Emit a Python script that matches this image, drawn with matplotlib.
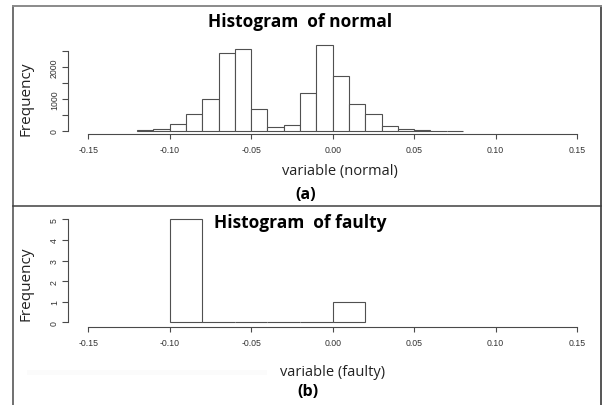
import numpy as np
import matplotlib
matplotlib.use("Agg")
import matplotlib.pyplot as plt
from matplotlib.lines import Line2D
from matplotlib.patches import Rectangle

# histogram data
normal_left = [-0.12, -0.11, -0.10, -0.09, -0.08, -0.07, -0.06, -0.05, -0.04, -0.03,
               -0.02, -0.01, 0.00, 0.01, 0.02, 0.03, 0.04, 0.05, 0.06, 0.07]
normal_counts = [10, 45, 225, 535, 990, 2440, 2570, 675, 120, 180,
                 1175, 2705, 1720, 828, 540, 138, 45, 12, 6, 4]
normal_width = 0.01

faulty_left = [-0.10, -0.08, -0.06, -0.04, -0.02, 0.00]
faulty_counts = [5, 0, 0, 0, 0, 1]
faulty_width = 0.02

xticks = [-0.15, -0.10, -0.05, 0.00, 0.05, 0.10, 0.15]
xtick_labels = ["-0.15", "-0.10", "-0.05", "0.00", "0.05", "0.10", "0.15"]
normal_yticks = [0, 500, 1000, 1500, 2000, 2500]
normal_ylabels = ["0", "", "1000", "", "2000", ""]
faulty_yticks = [0, 1, 2, 3, 4, 5]
faulty_ylabels = ["0", "1", "2", "3", "4", "5"]

W, H = 603, 406
fig = plt.figure(figsize=(W / 100, H / 100), dpi=100)

TXT = "Open Sans"
TICK = "Liberation Sans"
AX_COL = "#4a4a4a"


def px_axes(left, right, top, bottom):
    return fig.add_axes([left / W, 1 - bottom / H, (right - left) / W, (bottom - top) / H])


def style_axes(ax, yticks, ylabels, ybounds, xout):
    ax.set_xlim(-0.15, 0.15)
    for s in ["top", "right"]:
        ax.spines[s].set_visible(False)
    ax.spines["left"].set_position(("outward", 20 * 0.72))
    ax.spines["bottom"].set_position(("outward", xout * 0.72))
    ax.spines["left"].set_bounds(*ybounds)
    ax.spines["bottom"].set_bounds(-0.15, 0.15)
    for s in ["left", "bottom"]:
        ax.spines[s].set_color(AX_COL)
        ax.spines[s].set_linewidth(0.8)
    ax.set_xticks(xticks)
    ax.set_xticklabels(xtick_labels, fontfamily=TICK, fontsize=6.3)
    ax.set_yticks(yticks)
    ax.set_yticklabels(ylabels, fontfamily=TICK, fontsize=6.3, rotation=90, va="center")
    ax.tick_params(axis="x", length=3.6, width=0.8, color=AX_COL, pad=4.5, labelcolor="#333333")
    ax.tick_params(axis="y", length=4.3, width=0.8, color=AX_COL, pad=2.5, labelcolor="#333333")
    ax.patch.set_visible(False)


# top panel
ax1 = px_axes(88.3, 577, 42.9, 131.7)
ax1.bar(normal_left, normal_counts, width=normal_width, align="edge",
        facecolor="white", edgecolor="#505050", linewidth=0.8, clip_on=False)
ax1.set_ylim(0, 2800)
style_axes(ax1, normal_yticks, normal_ylabels, (0, 2500), 3.3)

# bottom panel
ax2 = px_axes(88.3, 577, 210, 323.3)
ax2.bar(faulty_left, faulty_counts, width=faulty_width, align="edge",
        facecolor="white", edgecolor="#505050", linewidth=0.8, clip_on=False)
ax2.set_ylim(0, 5.5)
style_axes(ax2, faulty_yticks, faulty_ylabels, (0, 5), 4.6)

# faint scan band in lower panel
fig.add_artist(Rectangle((27 / W, 1 - 376 / H), 240 / W, 5 / H,
                         transform=fig.transFigure, facecolor="#fbfbfb", edgecolor="none", zorder=0))


def ftext(x, y, s, **kw):
    fig.text(x / W, 1 - y / H, s, ha="center", va="center", **kw)


ftext(300, 22, "Histogram  of normal", fontfamily=TXT, fontsize=12.5, fontweight="bold")
ftext(26, 99, "Frequency", fontfamily=TXT, fontsize=11, rotation=90, color="#222222")
ftext(340, 172, "variable (normal)", fontfamily=TXT, fontsize=10.5, color="#222222")
ftext(306, 195, "(a)", fontfamily=TXT, fontsize=11.5, fontweight="bold")

ftext(300, 223, "Histogram  of faulty", fontfamily=TXT, fontsize=12.5, fontweight="bold")
ftext(26, 284, "Frequency", fontfamily=TXT, fontsize=11, rotation=90, color="#222222")
ftext(333, 373, "variable (faulty)", fontfamily=TXT, fontsize=10.5, color="#222222")
ftext(308, 392, "(b)", fontfamily=TXT, fontsize=11.5, fontweight="bold")

# panel frames
def fline(xs, ys, col="#707070", lw=1.4):
    fig.add_artist(Line2D([x / W for x in xs], [1 - y / H for y in ys],
                          transform=fig.transFigure, color=col, linewidth=lw))


fline([13, 13], [7, 406])
fline([600.5, 600.5], [7, 406], col="#555555")
fline([13, 600.5], [7, 7], col="#8a8a8a")
fline([13, 600.5], [206.5, 206.5], col="#404040", lw=1.1)

fig.savefig("out.png", dpi=100)
